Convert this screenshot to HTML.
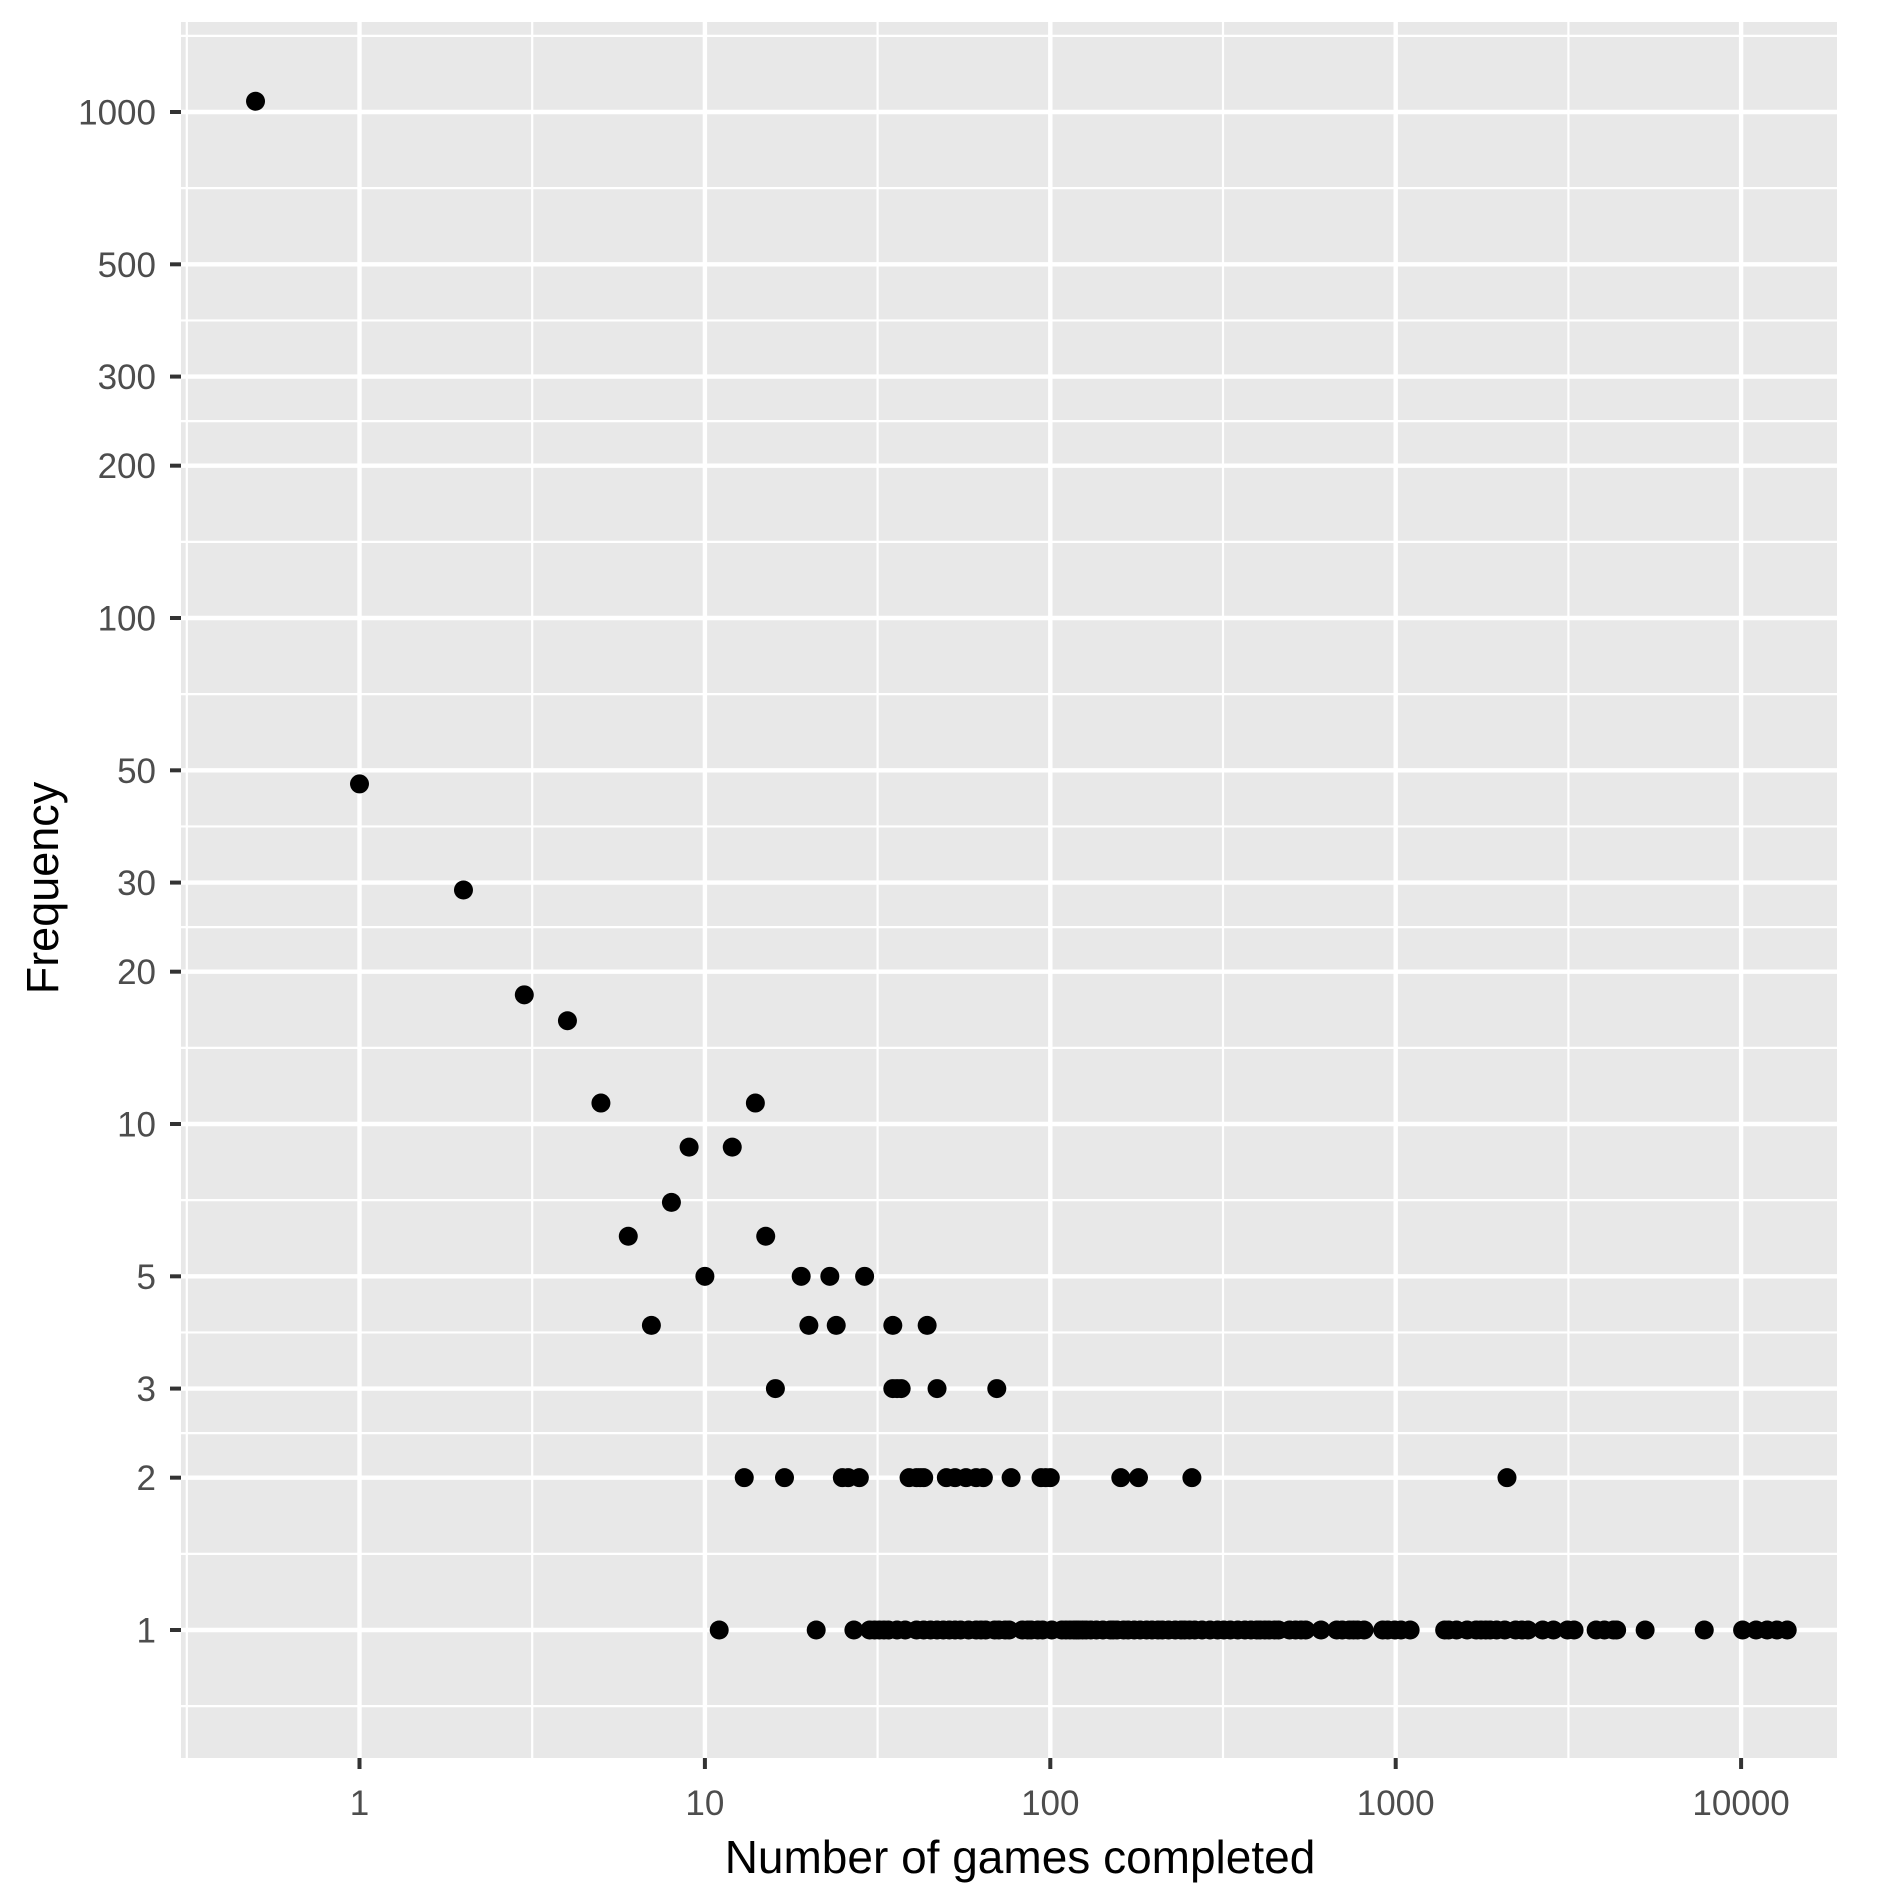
<!DOCTYPE html>
<html><head><meta charset="utf-8"><style>
html,body{margin:0;padding:0;background:#fff;}
svg{display:block;font-family:"Liberation Sans",Arial,sans-serif;}
</style></head><body>
<svg id="chart" width="1889" height="1889" viewBox="0 0 1889 1889" xmlns="http://www.w3.org/2000/svg">
<rect x="0" y="0" width="1889" height="1889" fill="#ffffff"/>
<g id="panel"></g>
<g id="xaxis"></g>
<g id="yaxis"></g>
<g id="points"></g>
<text x="1020" y="1873" text-anchor="middle" font-size="46" fill="#000">Number of games completed</text>
<text transform="translate(58,888) rotate(-90)" text-anchor="middle" font-size="45" fill="#000">Frequency</text>
</svg>
<script>
const xTicks = [1, 10, 100, 1000, 10000];
const xTickLabels = ["1", "10", "100", "1000", "10000"];
const yTicks = [1, 2, 3, 5, 10, 20, 30, 50, 100, 200, 300, 500, 1000];
const yTickLabels = ["1", "2", "3", "5", "10", "20", "30", "50", "100", "200", "300", "500", "1000"];
const ones = [11,21,27,30,31,32,33,34,36,38,41,43,45,47,49,51,53,55,58,61,63,65,69,71,74,76,83,86,88,92,95,101,108,111,114,117,119,121,124,127,131,136,142,149,152,156,163,168,175,182,190,197,205,211,220,230,239,245,253,262,275,290,305,318,332,349,366,381,396,405,418,430,446,458,493,513,532,549,608,675,700,734,755,776,810,917,948,994,1036,1101,1386,1424,1500,1610,1710,1766,1823,1877,1960,2069,2225,2320,2416,2664,2862,3144,3284,3804,4020,4270,4362,5274,7823,10100,11050,11900,12700,13600];
const twos = [13,17,25,26,28,39,41,42,43,50,53,57,61,64,77,94,97,100,160,180,257,2100];
const threes = [16,35,36,37,47,70];
const fours = [7,20,24,35,44];
const fives = [10,19,23,29];
const higherX = [0.5,1,2,3,4,5,6,8,9,12,14,15];
const higherY = [1050,47,29,18,16,11,6,7,9,9,11,6];

const NS = "http://www.w3.org/2000/svg";
const PL = 181, PR = 1837, PT = 22, PB = 1758;
const X0 = 359.5, XD = 345.4, Y0 = 1630, YD = 506;
function xs(v){ return X0 + Math.log10(v) * XD; }
function ys(v){ return Y0 - Math.log10(v) * YD; }
function mk(tag, attrs, parent){ const e = document.createElementNS(NS, tag); for (const k in attrs) e.setAttribute(k, attrs[k]); parent.appendChild(e); return e; }

const panel = document.getElementById('panel');
const bg = mk('rect', {x:PL, y:PT, width:PR-PL, height:PB-PT, fill:'#E8E8E8'}, panel);



for (let e = -1; e <= 4; e++) {
  const x = X0 + (e + 0.5) * XD;
  if (x > PL && x < PR) {
    const l = mk('line', {x1:x, x2:x, y1:PT, y2:PB, stroke:'#fff', 'stroke-width':2.2}, panel);
    
    
  }
}
const yAll = [0.5].concat(yTicks).concat([2000]);
for (let i = 0; i < yAll.length - 1; i++) {
  const y = (ys(yAll[i]) + ys(yAll[i+1])) / 2;
  if (y > PT && y < PB) {
    const l = mk('line', {x1:PL, x2:PR, y1:y, y2:y, stroke:'#fff', 'stroke-width':2.2}, panel);
    
    
  }
}
const xa = document.getElementById('xaxis');
xTicks.forEach((v, i) => {
  const x = xs(v);
  const g = mk('line', {x1:x, x2:x, y1:PT, y2:PB, stroke:'#fff', 'stroke-width':4.4}, panel);
  
  
  const t = mk('line', {x1:x, x2:x, y1:PB, y2:PB+11, stroke:'#333', 'stroke-width':4}, xa);
  
  
  const lb = mk('text', {x:x, y:1815, 'text-anchor':'middle', 'font-size':35, fill:'#4D4D4D'}, xa);
  lb.textContent = xTickLabels[i];
  
  
});
const ya = document.getElementById('yaxis');
yTicks.forEach((v, i) => {
  const y = ys(v);
  const g = mk('line', {x1:PL, x2:PR, y1:y, y2:y, stroke:'#fff', 'stroke-width':4.4}, panel);
  
  
  const t = mk('line', {x1:PL-11, x2:PL, y1:y, y2:y, stroke:'#333', 'stroke-width':4}, ya);
  
  
  const lb = mk('text', {x:156, y:y+12.5, 'text-anchor':'end', 'font-size':35, fill:'#4D4D4D'}, ya);
  lb.textContent = yTickLabels[i];
  
  
});
const pts = document.getElementById('points');
function dot(xv, yv){
  const c = mk('circle', {cx:xs(xv), cy:ys(yv), r:9.5, fill:'#000'}, pts);
  
  
}
ones.forEach(v => dot(v, 1));
twos.forEach(v => dot(v, 2));
threes.forEach(v => dot(v, 3));
fours.forEach(v => dot(v, 4));
fives.forEach(v => dot(v, 5));
higherX.forEach((v, i) => dot(v, higherY[i]));
</script>
</body></html>
